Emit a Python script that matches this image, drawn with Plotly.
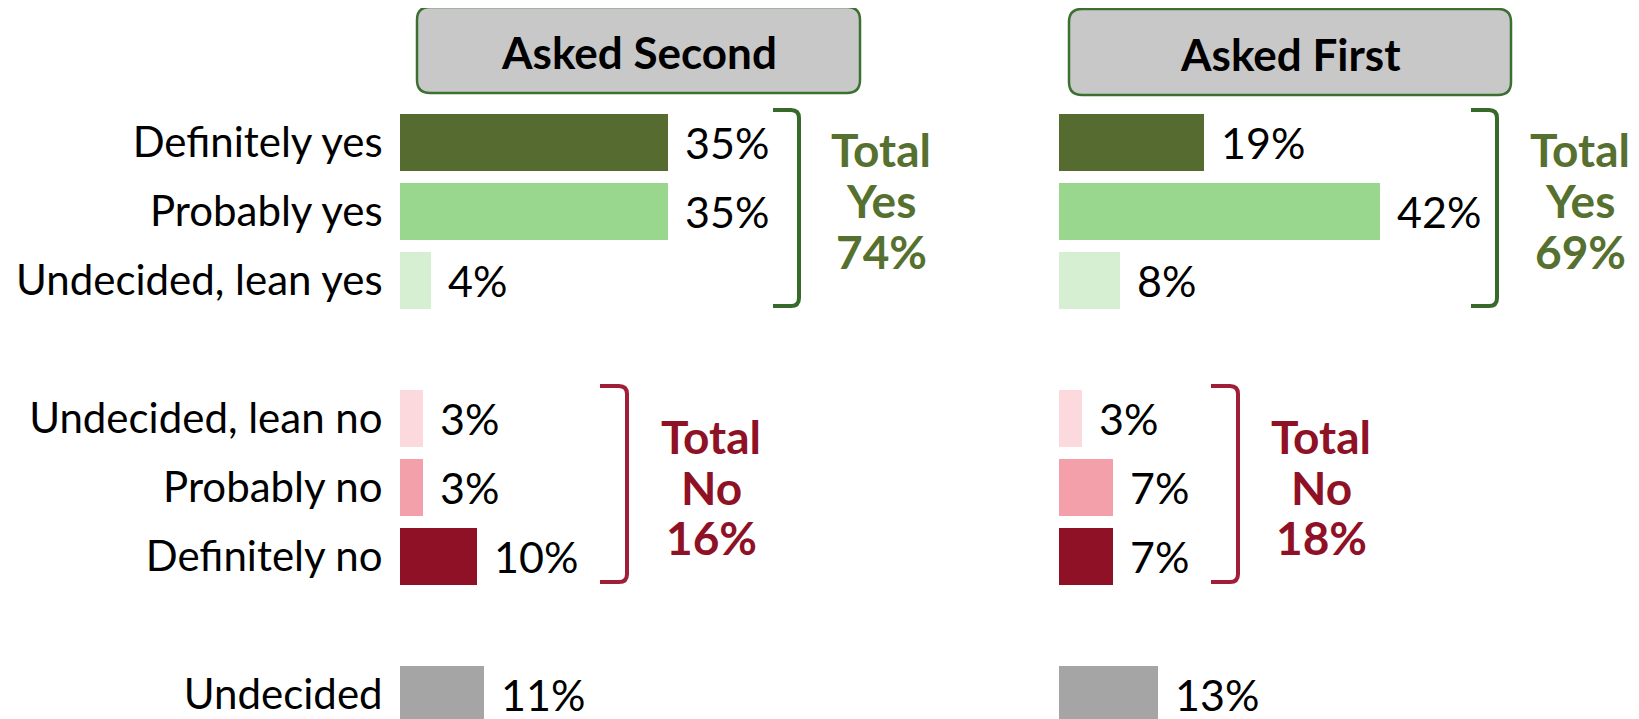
import plotly.graph_objects as go

# ---------------- data ----------------
categories = ["Definitely yes", "Probably yes", "Undecided, lean yes",
              "Undecided, lean no", "Probably no", "Definitely no", "Undecided"]
slots = [0, 1, 2, 4, 5, 6, 8]          # row slot of each category (blank rows between groups)
asked_second = [35, 35, 4, 3, 3, 10, 11]
asked_first = [19, 42, 8, 3, 7, 7, 13]
bar_colors = ["#556B2F", "#98D78D", "#D6EFD3", "#FBD9DD", "#F4A0AA", "#8F1126", "#A5A5A5"]
panel_titles = ["Asked Second", "Asked First"]
total_yes = [74, 69]
total_no = [16, 18]

# the page body has an 8px margin: the figure is sized to fill the rest of the window
OFF = 8
FW, FH = 1639 - OFF, 719 - OFF
FONT = "Lato"
GREEN_TXT = "#56702F"
RED_TXT = "#8F1126"
GREEN_LINE = "#36692A"
RED_LINE = "#A01E38"


def X(px):
    """page pixel x -> paper fraction"""
    return (px - OFF) / FW


def Y(py):
    """page pixel y -> paper fraction"""
    return 1 - (py - OFF) / FH


fig = go.Figure()

panels = [asked_second, asked_first]
xaxes = ["x", "x2"]
for vals, xa in zip(panels, xaxes):
    fig.add_trace(go.Bar(
        x=vals, y=slots, orientation="h", width=0.83,
        marker=dict(color=bar_colors, line=dict(width=0)),
        xaxis=xa, yaxis="y", showlegend=False, hoverinfo="skip",
    ))

annotations = []
# value labels
for vals, xa in zip(panels, xaxes):
    for v, s in zip(vals, slots):
        annotations.append(dict(
            x=v, y=s, xref=xa, yref="y", text=f"{v}%", showarrow=False,
            xanchor="left", yanchor="middle", xshift=15, yshift=0,
            font=dict(family=FONT, size=43, color="#000000"),
        ))

# header boxes and titles
boxes = [(417, 7, 860, 93), (1069, 9, 1511, 95)]
shapes = []
for (x0, y0, x1, y1), title in zip(boxes, panel_titles):
    r = 13
    path = (f"M {X(x0 + r)},{Y(y0)} L {X(x1 - r)},{Y(y0)} Q {X(x1)},{Y(y0)} {X(x1)},{Y(y0 + r)} "
            f"L {X(x1)},{Y(y1 - r)} Q {X(x1)},{Y(y1)} {X(x1 - r)},{Y(y1)} "
            f"L {X(x0 + r)},{Y(y1)} Q {X(x0)},{Y(y1)} {X(x0)},{Y(y1 - r)} "
            f"L {X(x0)},{Y(y0 + r)} Q {X(x0)},{Y(y0)} {X(x0 + r)},{Y(y0)} Z")
    shapes.append(dict(type="path", path=path, xref="paper", yref="paper",
                       fillcolor="#C8C8C8", line=dict(color="#3B7030", width=2.5)))
    annotations.append(dict(
        x=X((x0 + x1) / 2), y=Y((y0 + y1) / 2 + 2), xref="paper", yref="paper",
        text=title, showarrow=False, xanchor="center", yanchor="middle",
        font=dict(family=FONT, size=44, color="#000000", weight="bold"),
    ))


def bracket(x0, x1, yt, yb, color):
    r = 8
    path = (f"M {X(x0)},{Y(yt)} L {X(x1 - r)},{Y(yt)} Q {X(x1)},{Y(yt)} {X(x1)},{Y(yt + r)} "
            f"L {X(x1)},{Y(yb - r)} Q {X(x1)},{Y(yb)} {X(x1 - r)},{Y(yb)} L {X(x0)},{Y(yb)}")
    return dict(type="path", path=path, xref="paper", yref="paper",
                line=dict(color=color, width=4))


shapes.append(bracket(773, 799, 110, 306, GREEN_LINE))
shapes.append(bracket(1471, 1497, 110, 306, GREEN_LINE))
shapes.append(bracket(600, 627, 386, 582, RED_LINE))
shapes.append(bracket(1211, 1238, 386, 582, RED_LINE))


def total_block(cx, ys, lines, color):
    for yy, t in zip(ys, lines):
        annotations.append(dict(
            x=X(cx), y=Y(yy), xref="paper", yref="paper", text=t, showarrow=False,
            xanchor="center", yanchor="middle",
            font=dict(family=FONT, size=46, color=color, weight="bold"),
        ))


total_block(881, [150, 201, 251], ["Total", "Yes", f"{total_yes[0]}%"], GREEN_TXT)
total_block(1580, [150, 201, 251], ["Total", "Yes", f"{total_yes[1]}%"], GREEN_TXT)
total_block(711, [436, 487, 537], ["Total", "No", f"{total_no[0]}%"], RED_TXT)
total_block(1321, [436, 487, 537], ["Total", "No", f"{total_no[1]}%"], RED_TXT)

px_per_unit = 7.65
xr = 74
row_px = 69
plot_top = 108                      # page pixel of slot -0.5
fig.update_layout(
    width=FW, height=FH,
    margin=dict(l=0, r=0, t=0, b=0),
    paper_bgcolor="#FFFFFF", plot_bgcolor="#FFFFFF",
    bargap=0,
    xaxis=dict(domain=[X(400), X(400 + xr * px_per_unit)], range=[0, xr],
               visible=False, fixedrange=True),
    xaxis2=dict(domain=[X(1059), X(1059 + xr * px_per_unit)], range=[0, xr],
                visible=False, fixedrange=True, anchor="y"),
    yaxis=dict(domain=[0, Y(plot_top)],
               range=[-0.5 + (719 - plot_top) / row_px, -0.5],
               tickmode="array", tickvals=slots, ticktext=categories,
               ticks="outside", ticklen=8, tickcolor="rgba(0,0,0,0)",
               showgrid=False, zeroline=False, showline=False,
               tickfont=dict(family=FONT, size=42, color="#000000"),
               fixedrange=True, anchor="x"),
    shapes=shapes,
    annotations=annotations,
)

fig.write_html("out.html", config={"displayModeBar": False})
